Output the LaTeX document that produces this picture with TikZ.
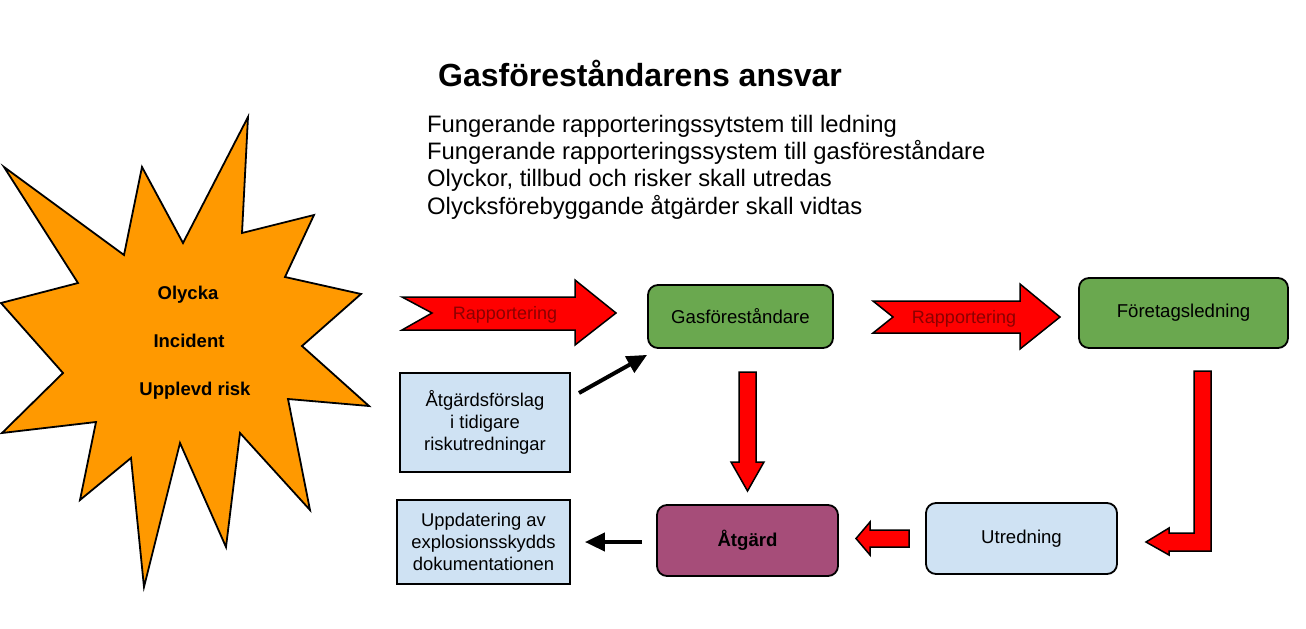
\documentclass[tikz,border=0pt]{standalone}
\usepackage{fontspec}
\setmainfont{Liberation Sans}
\usetikzlibrary{arrows.meta,calc}
\definecolor{starorange}{HTML}{FF9900}
\definecolor{boxgreen}{HTML}{6AA84F}
\definecolor{boxpurple}{HTML}{A64D79}
\definecolor{boxblue}{HTML}{CFE2F3}
\definecolor{blockred}{HTML}{FF0000}
\definecolor{labelred}{HTML}{8B0000}
\tikzset{
  rbox/.style={draw=black, line width=1.8bp, rounded corners=10bp, inner sep=0pt, align=center,
    font=\fontsize{18.6bp}{21.5bp}\selectfont},
  sbox/.style={draw=black, line width=1.8bp, fill=boxblue, inner sep=0pt, align=center,
    font=\fontsize{18.4bp}{22bp}\selectfont},
  blockarrow/.style={draw=black, line width=1.5bp, fill=blockred, line join=miter},
  blk/.style={line width=4bp, -{Triangle[length=20bp,width=18bp]}},
  txt/.style={inner sep=0pt, anchor=base west},
  bodytxt/.style={txt, font=\fontsize{23.8bp}{27bp}\selectfont},
  startxt/.style={inner sep=0pt, anchor=base, font=\fontsize{18.5bp}{22bp}\selectfont\bfseries},
  reptxt/.style={inner sep=0pt, text=labelred, font=\fontsize{18bp}{22bp}\selectfont}
}
\begin{document}
\begin{tikzpicture}[x=1bp,y=-1bp]
\useasboundingbox (0,0) rectangle (1306,629);
\fill[white] (0,0) rectangle (1306,629);

% starburst
\draw[line width=1.8bp, fill=starorange, line join=miter]
  (248,117) -- (242,233) -- (314,215) -- (285,277) -- (361,294) -- (302,346)
  -- (369,406) -- (288,399) -- (310,510) -- (240,433) -- (226,547) -- (180,443)
  -- (144,587) -- (131,458) -- (80,500) -- (96,422) -- (2,433) -- (63,373)
  -- (1,303) -- (78,283) -- (4,167) -- (124,255) -- (142,167) -- (183,243) -- cycle;
\node[startxt] (olycka) at (188,299) {Olycka};
\node[startxt] (incident) at (189,347) {Incident};
\node[startxt] (upplevd) at (195,395) {Upplevd risk};

% title and text
\node[txt, font=\fontsize{32bp}{36bp}\selectfont\bfseries] (title) at (438,87) {Gasföreståndarens ansvar};
\node[bodytxt] (l1) at (427,133) {Fungerande rapporteringssytstem till ledning};
\node[bodytxt] (l2) at (427,160) {Fungerande rapporteringssystem till gasföreståndare};
\node[bodytxt] (l3) at (427,187) {Olyckor, tillbud och risker skall utredas};
\node[bodytxt] (l4) at (427,214) {Olycksförebyggande åtgärder skall vidtas};

% boxes
\node[rbox, fill=boxgreen, minimum width=185bp, minimum height=63bp] (gas) at (740.5,316.5) {Gasföreståndare};
\node[rbox, fill=boxgreen, minimum width=209bp, minimum height=70bp] (fore) at (1183.5,313) {Företagsledning};
\node[rbox, fill=boxblue, minimum width=191bp, minimum height=71bp] (utr) at (1021.5,538.5) {Utredning};
\node[rbox, fill=boxpurple, minimum width=181bp, minimum height=71bp, font=\fontsize{18.6bp}{21.5bp}\selectfont\bfseries] (atg) at (747.5,540.5) {Åtgärd};
\node[sbox, minimum width=170bp, minimum height=99bp] (atf) at (485,422.5) {Åtgärdsförslag\\i tidigare\\riskutredningar};
\node[sbox, minimum width=173bp, minimum height=84bp] (upd) at (483.5,542) {Uppdatering av\\explosionsskydds\\dokumentationen};

% red block arrows
\draw[blockarrow] (402,297) -- (575,297) -- (575,280) -- (616,313) -- (575,345) -- (575,330) -- (402,330) -- (432,313) -- cycle;
\node[reptxt] (rep1) at (505,315) {Rapportering};
\draw[blockarrow] (873,301) -- (1020,301) -- (1020,284) -- (1060,317) -- (1020,349) -- (1020,333) -- (873,333) -- (893,317) -- cycle;
\node[reptxt] (rep2) at (964,319) {Rapportering};
% gas -> atg
\draw[blockarrow] (739,372) -- (756,372) -- (756,462) -- (764,462) -- (747.5,491) -- (731,462) -- (739,462) -- cycle;
% fore -> utr (L-shaped)
\draw[blockarrow] (1194,371) -- (1211,371) -- (1211,551) -- (1169,551) -- (1169,555) -- (1146,542) -- (1169,528) -- (1169,533) -- (1194,533) -- cycle;
% utr -> atg
\draw[blockarrow] (909,530) -- (909,547) -- (870,547) -- (870,555) -- (856,538.5) -- (870,522) -- (870,530) -- cycle;

% black arrows
\coordinate (a1s) at (579,393);
\coordinate (a1e) at ($(gas.south west)+(0,6)$);
\draw[blk] (a1s) -- (a1e);
\draw[blk] ([xshift=-14bp,yshift=-1.5bp]atg.west) -- ([xshift=14bp,yshift=0bp]upd.east);
\end{tikzpicture}
\end{document}
